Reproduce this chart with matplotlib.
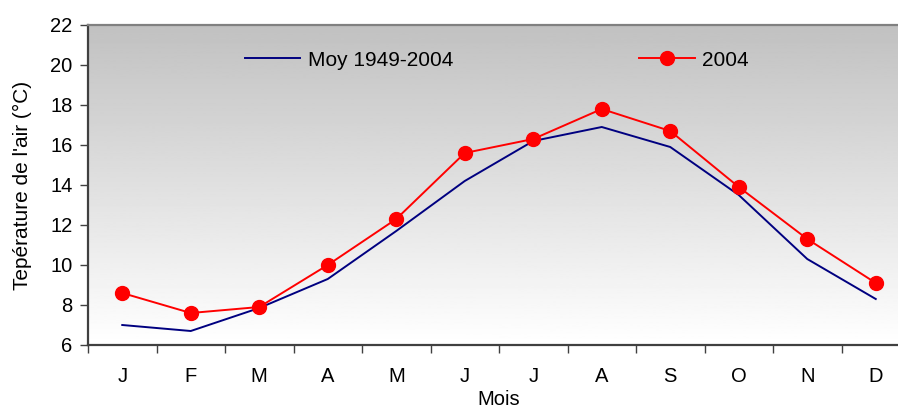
import numpy as np
import matplotlib.pyplot as plt

months = ['J', 'F', 'M', 'A', 'M', 'J', 'J', 'A', 'S', 'O', 'N', 'D']
moy_1949_2004 = [7.0, 6.7, 7.85, 9.3, 11.7, 14.2, 16.2, 16.9, 15.9, 13.5, 10.3, 8.3]
temp_2004 = [8.6, 7.6, 7.9, 10.0, 12.3, 15.6, 16.3, 17.8, 16.7, 13.9, 11.3, 9.1]

plt.rcParams['font.family'] = ['Liberation Sans', 'DejaVu Sans']

fig = plt.figure(figsize=(8.98, 4.09), dpi=100)
ax = fig.add_axes([88 / 898, 64 / 409, 822 / 898, 320 / 409])

x = np.arange(len(months))

# gray gradient background (dark top -> white bottom)
grad = np.linspace(0, 1, 256).reshape(-1, 1)
ax.imshow(grad, cmap='gray', vmin=-3.1, vmax=1.0, aspect='auto',
          extent=[-0.5, len(months) - 0.5, 6, 22], origin='upper', zorder=0)

ax.plot(x, moy_1949_2004, color='#000080', lw=1.4, label='Moy 1949-2004', zorder=2)
ax.plot(x, temp_2004, color='#ff0000', lw=1.4, marker='o', markersize=10,
        label='2004', zorder=3)

ax.set_xlim(-0.5, len(months) - 0.5)
ax.set_ylim(6, 22)
ax.set_yticks(range(6, 23, 2))

# ticks on category boundaries, labels at centres
ax.set_xticks(np.arange(-0.5, len(months), 1))
ax.set_xticklabels([])
ax.set_xticks(x, minor=True)
ax.set_xticklabels(months, minor=True)
ax.tick_params(axis='x', which='major', direction='out', length=6, width=1, color='#404040')
ax.tick_params(axis='x', which='minor', length=0, pad=16, labelsize=14.5)
ax.tick_params(axis='y', direction='out', length=6, width=1, color='#404040', pad=5, labelsize=14.5)

for side in ['left', 'bottom']:
    ax.spines[side].set_color('#404040')
    ax.spines[side].set_linewidth(1.6)
ax.spines['top'].set_color('#808080')
ax.spines['top'].set_linewidth(1.6)
ax.spines['right'].set_visible(False)

ax.set_ylabel("Tepérature de l'air (°C)", fontsize=15, labelpad=13)
ax.set_xlabel('Mois', fontsize=14.5, labelpad=3)

ax.legend(loc='center left', bbox_to_anchor=(157 / 822, 0.89), ncol=2, frameon=False,
          fontsize=15, handlelength=2.65, handletextpad=0.35, columnspacing=8.95,
          borderpad=0, borderaxespad=0)

plt.savefig('out.png', dpi=100)
